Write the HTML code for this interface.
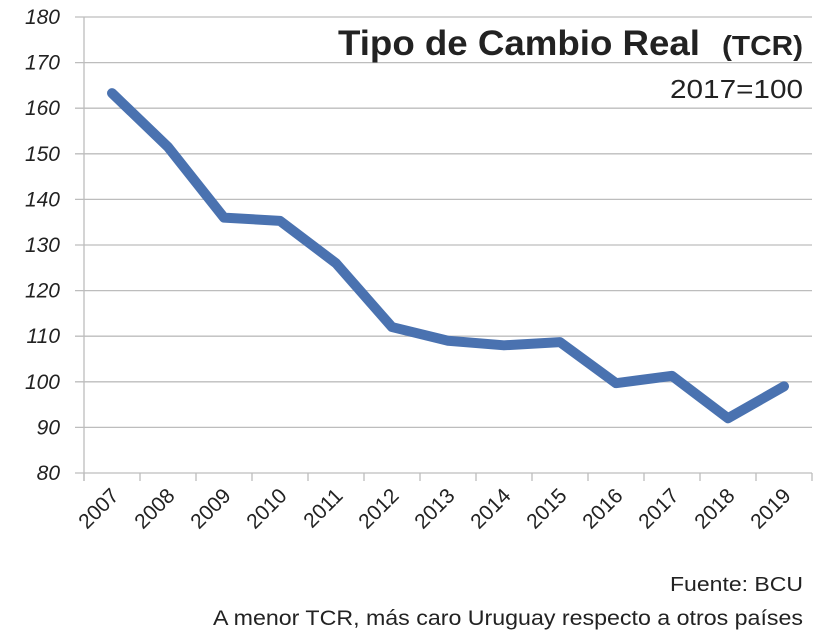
<!DOCTYPE html>
<html><head><meta charset="utf-8"><style>
body{margin:0;background:#fff;}
svg{display:block;font-family:"Liberation Sans",sans-serif;}
</style></head><body>
<svg id="chart" width="840" height="639" viewBox="0 0 840 639">
<g id="grid"></g>
<g id="yticks"></g>
<g id="xaxis"></g>
<g id="series"></g>
<text x="338" y="55" fill="#222" font-weight="bold" font-size="35" textLength="362" lengthAdjust="spacingAndGlyphs">Tipo de Cambio Real</text>
<text x="722" y="55" fill="#222" font-weight="bold" font-size="28" textLength="81" lengthAdjust="spacingAndGlyphs">(TCR)</text>
<text x="670" y="98" fill="#222" font-size="26" textLength="133" lengthAdjust="spacingAndGlyphs">2017=100</text>
<text x="670" y="591" fill="#222" font-size="20" textLength="133" lengthAdjust="spacingAndGlyphs">Fuente: BCU</text>
<text x="213" y="625" fill="#222" font-size="21" textLength="590" lengthAdjust="spacingAndGlyphs">A menor TCR, más caro Uruguay respecto a otros países</text>
</svg>
<script>
const categories=["2007","2008","2009","2010","2011","2012","2013","2014","2015","2016","2017","2018","2019"];
const values=[163.3,151.5,136,135.3,126,112,109,108,108.7,99.7,101.3,92,99];
const yTicks=[80,90,100,110,120,130,140,150,160,170,180];
const NS="http://www.w3.org/2000/svg";
const L=84,R=812,T=17,B=473,yMin=80,yMax=180;
const bw=(R-L)/categories.length;
const xS=i=>L+bw*(i+0.5);
const yS=v=>B-(v-yMin)/(yMax-yMin)*(B-T);
function mk(tag,attrs,parent){const e=document.createElementNS(NS,tag);for(const k in attrs)e.setAttribute(k,attrs[k]);parent.appendChild(e);return e;}
const grid=document.getElementById('grid'),yt=document.getElementById('yticks'),xa=document.getElementById('xaxis'),se=document.getElementById('series');
yTicks.forEach(v=>{
  const y=yS(v);
  const ln=mk('line',{x1:75,x2:R,y1:y,y2:y,stroke:'#bdbdbd','stroke-width':1.3},grid);
  
  
  const t=mk('text',{x:60,y:y+7,'text-anchor':'end','font-size':21,'font-style':'italic',fill:'#222'},yt);
  t.textContent=v;
  
  
});
const ax=mk('line',{x1:L,x2:L,y1:T,y2:B+8,stroke:'#bdbdbd','stroke-width':1.3},xa);


for(let i=0;i<=categories.length;i++){
  const x=L+bw*i;
  const tk=mk('line',{x1:x,x2:x,y1:B,y2:B+8,stroke:'#bdbdbd','stroke-width':1.3},xa);
  
  
}
categories.forEach((c,i)=>{
  const x=xS(i)+8,y=B+24;
  const t=mk('text',{x:x,y:y,'text-anchor':'end','font-size':21,fill:'#222',transform:`rotate(-45 ${x} ${y})`},xa);
  t.textContent=c;
  
  
});
const p=mk('polyline',{points:values.map((v,i)=>xS(i)+','+yS(v)).join(' '),fill:'none',stroke:'#4a72b0','stroke-width':10,'stroke-linejoin':'round','stroke-linecap':'round'},se);


</script>
</body></html>
